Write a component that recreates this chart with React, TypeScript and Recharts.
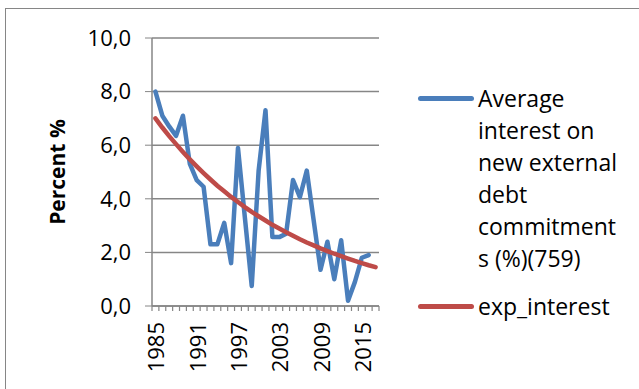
import { LineChart, Line, XAxis, YAxis, CartesianGrid, Legend } from "recharts";

const years = [
  1985, 1986, 1987, 1988, 1989, 1990, 1991, 1992, 1993, 1994, 1995, 1996, 1997, 1998, 1999, 2000, 2001,
  2002, 2003, 2004, 2005, 2006, 2007, 2008, 2009, 2010, 2011, 2012, 2013, 2014, 2015, 2016, 2017,
];

const avgInterest = [
  8.0, 7.1, 6.7, 6.35, 7.1, 5.3, 4.7, 4.45, 2.3, 2.3, 3.1, 1.6, 5.9, 3.3, 0.75, 5.05, 7.3,
  2.57, 2.57, 2.7, 4.7, 4.06, 5.05, 3.2, 1.35, 2.4, 1.0, 2.45, 0.2, 0.9, 1.8, 1.9, null,
];

const expInterest = [
  7.0, 6.66, 6.34, 6.04, 5.75, 5.47, 5.21, 4.96, 4.72, 4.49, 4.28, 4.07, 3.88, 3.69, 3.51, 3.35, 3.19,
  3.03, 2.89, 2.75, 2.62, 2.49, 2.37, 2.26, 2.15, 2.05, 1.95, 1.86, 1.77, 1.68, 1.6, 1.52, 1.45,
];

const yTicks = [0, 2, 4, 6, 8, 10];
const labelTicks = [0, 6, 12, 18, 24, 30];
// tick marks sit between categories, labels sit on every 6th category
const minorTicks = years.map((_, i) => i - 0.5).concat(years.length - 0.5);
const xTicks = [...minorTicks, ...labelTicks].sort((a, b) => a - b);

const BLUE = "#4a7ebb";
const RED = "#be4b48";
const GRID = "#868686";
const FONT = "'Open Sans', 'Noto Sans', sans-serif";

const rows = years.map((y, i) => ({ x: i, year: y, avg: avgInterest[i], exp: expInterest[i] }));

const YearTick = ({ x, y, payload }: any) => {
  const v = payload.value;
  if (!Number.isInteger(v)) {
    return <line x1={x} x2={x} y1={y} y2={y + 5} stroke={GRID} strokeWidth={1.2} />;
  }
  return (
    <text
      x={x}
      y={y + 16}
      transform={`rotate(-90, ${x}, ${y + 16})`}
      textAnchor="end"
      dominantBaseline="central"
      fontSize={22}
      fill="#000"
      fontFamily={FONT}
    >
      {years[v]}
    </text>
  );
};

const renderLegend = () => (
  <div style={{ fontFamily: FONT, fontSize: 23, lineHeight: "32px", color: "#000" }}>
    <div style={{ display: "flex", alignItems: "flex-start" }}>
      <span style={{ width: 56, height: 5, background: BLUE, borderRadius: 3, marginTop: 14, marginRight: 4, flexShrink: 0 }} />
      <span style={{ width: 150 }}>
        Average
        <br />
        interest on
        <br />
        new external
        <br />
        debt
        <br />
        commitment
        <br />s (%)(759)
      </span>
    </div>
    <div style={{ display: "flex", alignItems: "flex-start", marginTop: 16 }}>
      <span style={{ width: 56, height: 5, background: RED, borderRadius: 3, marginTop: 14, marginRight: 4, flexShrink: 0 }} />
      <span>exp_interest</span>
    </div>
  </div>
);

export default function App() {
  return (
    <div style={{ position: "absolute", left: 0, top: 0, width: 639, height: 389, background: "#fff", overflow: "hidden" }}>
      <div
        style={{
          position: "absolute",
          left: 5,
          top: 8,
          width: 640,
          height: 400,
          borderTop: `1px solid ${GRID}`,
          borderLeft: `1px solid ${GRID}`,
        }}
      />
      <LineChart
        width={639}
        height={389}
        data={rows}
        margin={{ top: 38, right: 39, left: 0, bottom: 0 }}
        style={{ position: "absolute", left: 0, top: 0 }}
      >
        <CartesianGrid vertical={false} stroke={GRID} strokeWidth={1.5} />
        <XAxis
          dataKey="x"
          type="number"
          domain={[-0.5, years.length - 0.5]}
          ticks={xTicks}
          interval={0}
          height={83}
          axisLine={{ stroke: GRID, strokeWidth: 1.5 }}
          tickLine={false}
          tickSize={0}
          tickMargin={0}
          tick={<YearTick />}
        />
        <YAxis
          domain={[0, 10]}
          ticks={yTicks}
          width={152}
          axisLine={{ stroke: GRID, strokeWidth: 1.5 }}
          tickLine={{ stroke: GRID }}
          tickSize={7}
          tickMargin={14}
          tick={{ fontSize: 22, fill: "#000", fontFamily: FONT }}
          tickFormatter={(v: number) => v.toFixed(1).replace(".", ",")}
          label={{
            content: () => (
              <text
                x={57}
                y={172}
                transform="rotate(-90, 57, 172)"
                textAnchor="middle"
                dominantBaseline="central"
                fontSize={21}
                fontWeight="bold"
                fontFamily={FONT}
                fill="#000"
              >
                Percent %
              </text>
            ),
          }}
        />
        <Legend
          layout="vertical"
          verticalAlign="top"
          align="right"
          wrapperStyle={{ left: 418, top: 82, width: 221 }}
          content={renderLegend}
        />
        <Line
          dataKey="avg"
          stroke={BLUE}
          strokeWidth={4.5}
          strokeLinecap="round"
          strokeLinejoin="round"
          dot={false}
          isAnimationActive={false}
        />
        <Line
          dataKey="exp"
          stroke={RED}
          strokeWidth={4.5}
          strokeLinecap="round"
          dot={false}
          isAnimationActive={false}
        />
      </LineChart>
    </div>
  );
}
